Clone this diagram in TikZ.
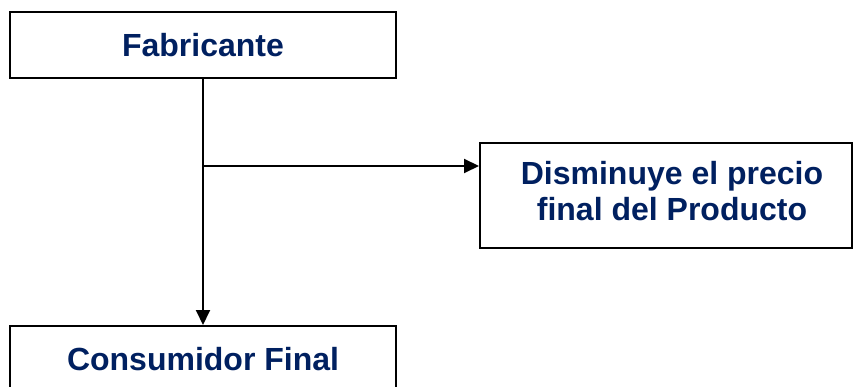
\documentclass[tikz,border=0pt]{standalone}
\usepackage{fontspec}
\setmainfont{Liberation Sans}
\usetikzlibrary{arrows.meta}
\definecolor{navy}{RGB}{0,32,96}
\tikzset{
  box/.style={draw=black, line width=2pt, fill=white, text=navy,
    font=\bfseries\fontsize{32}{37}\selectfont, align=center, inner sep=0pt},
  link/.style={draw=black, line width=2pt, -{Triangle[length=15pt,width=14pt]}}
}
\begin{document}
\begin{tikzpicture}[x=1pt,y=-1pt]
\useasboundingbox (0,0) rectangle (853,387);
% the three boxes
\node[box, minimum width=386pt, minimum height=66pt] (fab) at (203,45) {Fabricante};
\node[box, minimum width=386pt, minimum height=66pt] (cons) at (203,359) {Consumidor Final};
\node[box, minimum width=372pt, minimum height=105pt] (dis) at (666,195.5)
  {\raisebox{5pt}{\hspace*{12pt}\begin{tabular}{@{}c@{}}Disminuye el precio\\[-1pt]final del Producto\end{tabular}}};
% connectors
\coordinate (split) at (203,166);
\draw[line width=2pt] (fab.south) -- (split);
\draw[link] (split) -- (cons.north);
\draw[link] (split) -- (split -| dis.west);
\end{tikzpicture}
\end{document}
